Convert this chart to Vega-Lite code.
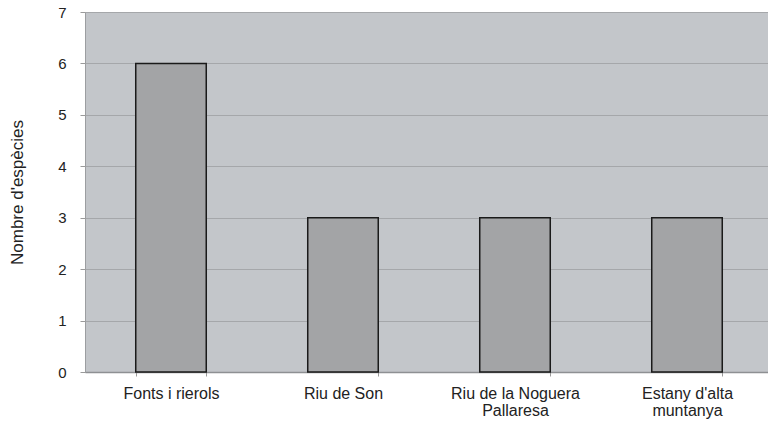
{
  "$schema": "https://vega.github.io/schema/vega-lite/v6.json",
  "autosize": "none",
  "width": 688,
  "height": 360,
  "padding": {"left": 85, "top": 12, "right": 0, "bottom": 53},
  "background": "#ffffff",
  "config": {
    "view": {"fill": "#c3c6ca", "stroke": "#9c9ea1", "strokeWidth": 1},
    "font": "Liberation Sans"
  },
  "data": {
    "values": [
      {"habitat": "Fonts i rierols", "n": 6},
      {"habitat": "Riu de Son", "n": 3},
      {"habitat": "Riu de la Noguera Pallaresa", "n": 3},
      {"habitat": "Estany d'alta muntanya", "n": 3}
    ]
  },
  "mark": {"type": "bar", "fill": "#a3a4a6", "stroke": "#1a1a1a", "strokeWidth": 1.5},
  "encoding": {
    "x": {
      "field": "habitat",
      "type": "nominal",
      "sort": null,
      "scale": {"paddingInner": 0.59, "paddingOuter": 0.295},
      "axis": {
        "title": null,
        "labelAngle": 0,
        "labelExpr": "datum.value == 'Riu de la Noguera Pallaresa' ? ['Riu de la Noguera', 'Pallaresa'] : datum.value == \"Estany d'alta muntanya\" ? [\"Estany d'alta\", 'muntanya'] : datum.value",
        "labelFontSize": 16,
        "labelColor": "#222222",
        "labelPadding": 9,
        "labelLineHeight": 17,
        "tickBand": "extent",
        "tickSize": 4,
        "tickColor": "#9a9a9a",
        "domainColor": "#8e9093",
        "domainWidth": 1.5
      }
    },
    "y": {
      "field": "n",
      "type": "quantitative",
      "scale": {"domain": [0, 7], "nice": false},
      "axis": {
        "title": "Nombre d'espècies",
        "titleFontSize": 17,
        "titleFontWeight": "normal",
        "titleColor": "#222222",
        "titlePadding": 31,
        "values": [0, 1, 2, 3, 4, 5, 6, 7],
        "labelFontSize": 15,
        "labelColor": "#222222",
        "labelPadding": 14,
        "tickSize": 5,
        "tickColor": "#9a9a9a",
        "domain": false,
        "grid": true,
        "gridColor": "#a5a7aa",
        "gridWidth": 1.2
      }
    }
  }
}
